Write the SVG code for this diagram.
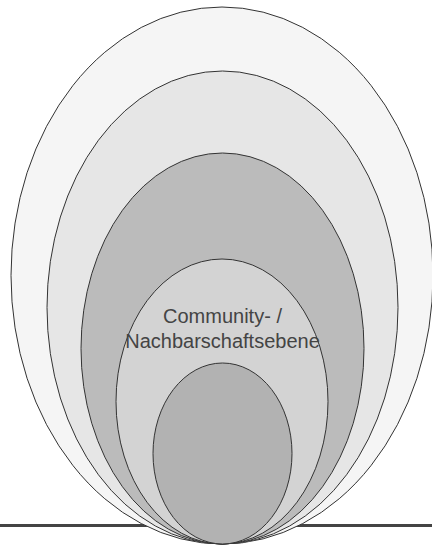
<svg xmlns="http://www.w3.org/2000/svg" width="432" height="547" viewBox="0 0 432 547">
<style>
.e{stroke:#333;stroke-width:1}
.t{font-family:"Liberation Sans",Arial,sans-serif;font-size:20px;fill:#444;text-anchor:middle}
</style>
<rect width="432" height="547" fill="#fff"/>
<g id="ground"><line x1="0" y1="525.5" x2="432" y2="525.5" stroke="#444" stroke-width="3"/></g>
<g id="level1"><ellipse class="e" cx="222" cy="275.5" rx="211" ry="268.5" fill="#f5f5f5"/></g>
<g id="level2"><ellipse class="e" cx="222.5" cy="307.5" rx="175.5" ry="236.5" fill="#e6e6e6"/></g>
<g id="level3"><ellipse class="e" cx="222.5" cy="348.5" rx="141.5" ry="195.5" fill="#bbbbbb"/></g>
<g id="level4"><ellipse class="e" cx="222" cy="401.5" rx="106" ry="142.5" fill="#d3d3d3"/>
<text class="t" x="222.5" y="323">Community- /</text>
<text class="t" x="222.5" y="348">Nachbarschaftsebene</text></g>
<g id="level5"><ellipse class="e" cx="222.5" cy="453.5" rx="69.5" ry="90.5" fill="#b2b2b2"/></g>
<g id="connectors"/>
</svg>
